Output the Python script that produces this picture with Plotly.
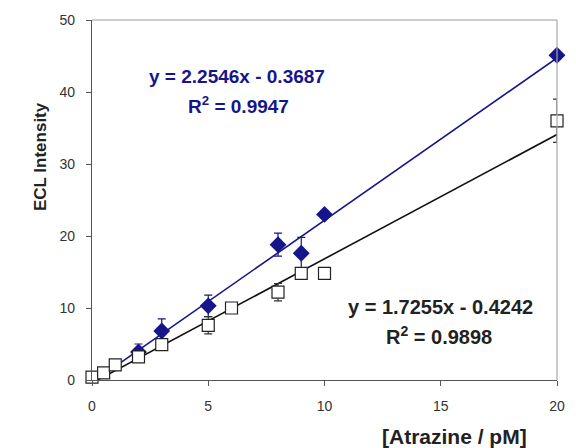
import plotly.graph_objects as go
import numpy as np

# Series 1 (filled diamonds, navy)
x_blue = [0, 2, 3, 5, 8, 9, 10, 20]
y_blue = [-0.3, 3.9, 6.8, 10.3, 18.8, 17.6, 23.0, 45.1]
e_blue = [0, 1.1, 1.7, 1.5, 1.6, 2.2, 0.5, 0]

# Series 2 (open squares, black)
x_sq = [0, 0.5, 1, 2, 3, 5, 6, 8, 9, 10, 20]
y_sq = [0.4, 1.0, 2.1, 3.2, 4.9, 7.6, 10.0, 12.2, 14.8, 14.8, 36.0]
e_sq = [0, 0, 0.3, 0.6, 0.4, 1.2, 0.4, 1.2, 0.8, 0.8, 3.0]

# Linear fits (as stated on the chart)
fit_blue = (2.2546, -0.3687)
fit_black = (1.7255, -0.4242)
fit_x = [0, 20]

x_ticks = [0, 5, 10, 15, 20]
y_ticks = [0, 10, 20, 30, 40, 50]

NAVY = "#16168a"
FONT = "Arial, Liberation Sans, sans-serif"

fig = go.Figure()

fx = np.array(fit_x, dtype=float)
fig.add_trace(go.Scatter(x=fx, y=fit_blue[0] * fx + fit_blue[1], mode="lines",
                         line=dict(color=NAVY, width=1.6), showlegend=False))
fig.add_trace(go.Scatter(x=fx, y=fit_black[0] * fx + fit_black[1], mode="lines",
                         line=dict(color="#111111", width=1.6), showlegend=False))

fig.add_trace(go.Scatter(x=x_blue, y=y_blue, mode="markers",
                         marker=dict(symbol="diamond", size=13, color=NAVY),
                         error_y=dict(type="data", array=e_blue, color=NAVY, thickness=1.2, width=4),
                         cliponaxis=False, showlegend=False))
fig.add_trace(go.Scatter(x=x_sq, y=y_sq, mode="markers",
                         marker=dict(symbol="square", size=12, color="white",
                                     line=dict(color="#222222", width=1.2)),
                         error_y=dict(type="data", array=e_sq, color="#333333", thickness=1.2, width=4),
                         cliponaxis=False, showlegend=False))

fig.update_layout(
    width=576, height=448,
    margin=dict(l=92, r=11, t=20, b=68),
    paper_bgcolor="white", plot_bgcolor="white",
    font=dict(family=FONT, size=14, color="#333333"),
    xaxis=dict(range=[0, 20], tickvals=x_ticks, showgrid=False, zeroline=False,
               showline=True, linecolor="#555555", linewidth=1.2,
               ticks="outside", ticklen=5, tickcolor="#555555",
               ticklabelstandoff=8,
               tickfont=dict(size=14, color="#333333")),
    yaxis=dict(range=[0, 50], tickvals=y_ticks, showgrid=False, zeroline=False,
               showline=True, linecolor="#555555", linewidth=1.2,
               ticks="outside", ticklen=5, tickcolor="#555555",
               ticklabelstandoff=8,
               tickfont=dict(size=14, color="#333333")),
    shapes=[
        dict(type="line", xref="paper", yref="paper", x0=0, x1=1, y0=1, y1=1,
             line=dict(color="#999999", width=1.2)),
        dict(type="line", xref="paper", yref="paper", x0=1, x1=1, y0=0, y1=1,
             line=dict(color="#aaaaaa", width=1.2)),
    ],
    annotations=[
        dict(text="<b>y = 2.2546x - 0.3687</b>",
             x=6.22, y=42.1, xref="x", yref="y", showarrow=False,
             font=dict(size=19, color=NAVY, family=FONT)),
        dict(text="<b>R<sup>2</sup> = 0.9947</b>",
             x=6.3, y=38.2, xref="x", yref="y", showarrow=False,
             font=dict(size=19, color=NAVY, family=FONT)),
        dict(text="<b>y = 1.7255x - 0.4242</b>",
             x=14.97, y=10.1, xref="x", yref="y", showarrow=False,
             font=dict(size=20, color="#222222", family=FONT)),
        dict(text="<b>R<sup>2</sup> = 0.9898</b>",
             x=14.93, y=6.2, xref="x", yref="y", showarrow=False,
             font=dict(size=20, color="#222222", family=FONT)),
        dict(text="<b>ECL Intensity</b>", textangle=-90, x=0, y=0,
             xref="paper", yref="paper", showarrow=False,
             font=dict(size=17, color="#222222", family=FONT)),
        dict(text="<b>[Atrazine / pM]</b>", x=0, y=0, xref="paper", yref="paper",
             xanchor="center", yanchor="middle", showarrow=False,
             font=dict(size=21, color="#222222", family=FONT)),
    ],
)
# place axis titles by pixel position
h_plot = 448 - 20 - 68
w_plot = 576 - 92 - 11
fig.layout.annotations[4].update(x=(28 - 92) / w_plot, y=(380 - 100) / h_plot)
fig.layout.annotations[5].update(x=(461 - 92) / w_plot, y=(380 - 437) / h_plot)

fig.write_html("out.html")
